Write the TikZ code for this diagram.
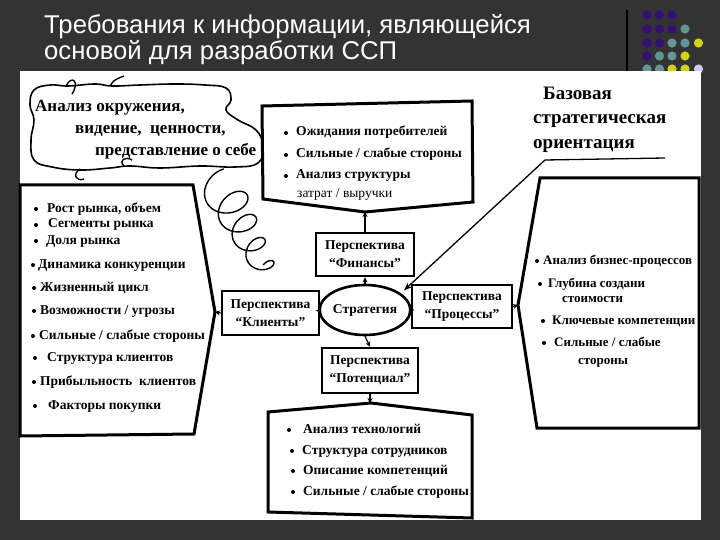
\documentclass[tikz,border=0pt]{standalone}
\usepackage{fontspec}
\setmainfont{Liberation Serif}
\newfontfamily\titlefont{Liberation Sans}
\usetikzlibrary{shapes.geometric,arrows.meta,calc}
\definecolor{bg}{RGB}{51,51,51}
\definecolor{dotpurple}{RGB}{50,16,120}
\definecolor{dotteal}{RGB}{98,150,152}
\definecolor{dotyellow}{RGB}{212,210,20}
\definecolor{dotlav}{RGB}{205,205,235}
\begin{document}
\begin{tikzpicture}[x=1pt,y=-1pt,
  titletext/.style={anchor=base west, inner sep=0pt, text=white, font=\titlefont\fontsize{25.7}{30}\selectfont},
  item/.style={anchor=west, inner sep=0pt, font=\bfseries\fontsize{13.5}{16}\selectfont, text height=9pt, text depth=3pt},
  itemr/.style={item, font=\fontsize{13.5}{16}\selectfont},
  items/.style={item, font=\bfseries\fontsize{13}{16}\selectfont},
  bigtext/.style={anchor=west, inner sep=0pt, font=\bfseries\fontsize{17}{21}\selectfont, text height=12pt, text depth=4.2pt},
  bsotext/.style={anchor=west, inner sep=0pt, font=\bfseries\fontsize{19}{23}\selectfont, text height=13pt, text depth=4.5pt},
  persp/.style={draw, line width=2.6pt, inner sep=0pt, align=center, font=\bfseries\fontsize{13.5}{18}\selectfont},
  outer/.style={draw, line width=3pt, line join=miter, fill=white},
  smallarr/.style={-{Stealth[length=5pt,width=5pt]}, line width=1.2pt},
  bul/.style={fill=black}
]
\useasboundingbox (0,0) rectangle (720,540);
\fill[bg] (0,0) rectangle (720,540);
% decorative dots
\foreach \x/\y/\c in {647/15/dotpurple,659.5/15/dotpurple,672/15/dotpurple,
  647/29/dotpurple,659.5/29/dotpurple,672/29/dotpurple,685/29/dotteal,
  647/43/dotpurple,659.5/43/dotpurple,672/43/dotteal,685/43/dotteal,698.5/43/dotyellow,
  647/56/dotpurple,659.5/56/dotteal,672/56/dotteal,685/56/dotyellow,
  647/69/dotteal,659.5/69/dotteal,672/69/dotyellow,685/69/dotyellow,698.5/69/dotlav}
  {\fill[\c] (\x,\y) circle (4.6pt);}
\draw[black, line width=1.5pt] (627,10) -- (627,71);
% title
\node[titletext] (t1) at (44,34) {Требования к информации, являющейся};
\node[titletext] (t2) at (44,60) {основой для разработки ССП};
% white panel
\fill[white] (20,71) rectangle (701,520);

% coil tail (drawn under the cloud)
\draw[line width=1.4pt] plot[domain=150:1620, samples=500, smooth, variable=\t]
  ({222 + 45*((\t-180)/1440) + (16-8*((\t-180)/1440))*cos(\t)*0.47 + (21-11*((\t-180)/1440))*sin(\t)*0.88},
   {188 + 84*((\t-180)/1440) + (16-8*((\t-180)/1440))*cos(\t)*0.88 - (21-11*((\t-180)/1440))*sin(\t)*0.47});
% cloud
\draw[line width=1.6pt, fill=white] plot[smooth cycle, tension=0.7] coordinates {(34,90) (50,85) (68,86) (95,84) (112,86) (140,85) (175,84) (205,85) (226,88) (231,100) (226,110) (238,120) (256,130) (263,146) (258,163) (235,167) (200,166) (160,168) (130,166) (110,168) (80,170) (52,167) (34,160) (31,140) (34,120) (30,105)};
\draw[line width=1.4pt] (66,86) .. controls (72,74) and (80,82) .. (72,94);
\draw[line width=1.4pt] (110,86) .. controls (114,80) .. (124,76);
\draw[line width=1.4pt] (80,169) .. controls (72,174) and (76,182) .. (84,179);
\draw[line width=1.4pt] (124,166) .. controls (118,160) and (126,156) .. (132,160);
\node[bigtext] (c1) at (35,108) {Анализ окружения,};
\node[bigtext] (c2) at (75,130) {видение,\ \ ценности,};
\node[bigtext] (c3) at (95,152) {представление о себе};

% top box (Finance info)
\draw[outer] (262,106) -- (472,101) -- (473,202) -- (365,212) -- (263,199) -- cycle;
\coordinate (topTip) at (365,212);
\foreach \y in {133,155,176} {\fill[bul] (286,\y) circle (2pt);}
\node[item] (f1) at (296,133) {Ожидания потребителей};
\node[item] (f2) at (296,155) {Сильные / слабые стороны};
\node[item] (f3) at (296,176) {Анализ структуры};
\node[itemr] (f4) at (297,194) {затрат / выручки};

% left box (customers info)
\draw[outer] (20,185) -- (193,185) -- (215,312) -- (194,434) -- (20,436) -- cycle;
\coordinate (leftTip) at (215,312);
\foreach \x/\y in {36/209,36/225,36/241,33/265,34/288,34/311,33/336,35/358,34/382,35/406}
  {\fill[bul] (\x,\y) circle (2pt);}
\node[item] (l1) at (47,209) {Рост рынка, объем};
\node[item] (l2) at (48,225) {Сегменты рынка};
\node[item] (l3) at (46,241) {Доля рынка};
\node[item] (l4) at (38,265) {Динамика конкуренции};
\node[item] (l5) at (40,288) {Жизненный цикл};
\node[item] (l6) at (40,311) {Возможности / угрозы};
\node[item] (l7) at (39,336) {Сильные / слабые стороны};
\node[item] (l8) at (47,358) {Структура клиентов};
\node[item] (l9) at (40,382) {Прибыльность\ \ клиентов};
\node[item] (l10) at (48,406) {Факторы покупки};

% right box (processes info)
\draw[outer] (540,178) -- (699,178) -- (699,428) -- (537,428) -- (518,305) -- cycle;
\coordinate (rightTip) at (518,305);
\foreach \x/\y in {537/261,540/284,543/321,544/343}
  {\fill[bul] (\x,\y) circle (2pt);}
\node[items] (r1) at (543,261) {Анализ бизнес-процессов};
\node[items] (r2) at (548,284) {Глубина создани};
\node[items] (r3) at (562,299) {стоимости};
\node[items] (r4) at (552,321) {Ключевые компетенции};
\node[items] (r5) at (554,343) {Сильные / слабые};
\node[items] (r6) at (578,361) {стороны};

% bottom box (potential info)
\draw[outer] (268,412) -- (371,403) -- (472,415) -- (472,518) -- (268,512) -- cycle;
\coordinate (botTip) at (370,403);
\foreach \x/\y in {289/430,292/451,293/471,293/492}
  {\fill[bul] (\x,\y) circle (2pt);}
\node[item] (b1) at (303,430) {Анализ технологий};
\node[item] (b2) at (302,451) {Структура сотрудников};
\node[item] (b3) at (303,471) {Описание компетенций};
\node[item] (b4) at (303,492) {Сильные / слабые стороны};

% basic strategic orientation
\node[bsotext] (bso1) at (543,95) {Базовая};
\node[bsotext] (bso2) at (533,119) {стратегическая};
\node[bsotext] (bso3) at (533,144) {ориентация};
\coordinate (bsoR) at (665,158);
\coordinate (bsoL) at (545,160);

% perspectives
\node[persp, minimum width=98pt, minimum height=43pt] (fin) at (365,254.5) {Перспектива\\“Финансы”};
\node[persp, minimum width=97pt, minimum height=44pt] (kli) at (270.5,313) {Перспектива\\“Клиенты”};
\node[persp, minimum width=100pt, minimum height=43pt] (pro) at (462,306.5) {Перспектива\\“Процессы”};
\node[persp, minimum width=96pt, minimum height=45pt] (pot) at (370,370.5) {Перспектива\\“Потенциал”};
\node[ellipse, draw, line width=2.6pt, minimum width=74pt, minimum height=50pt, inner sep=0pt,
  font=\bfseries\fontsize{13.5}{16}\selectfont] (strat) at (365,310) {Стратегия};

% connectors
\draw[smallarr] (strat.north) -- (fin.south);
\draw[smallarr] (strat.west) -- (kli.east);
\draw[smallarr] (strat.east) -- (pro.west);
\draw[smallarr] (strat.south) -- (pot.north);
\draw[smallarr] (fin.north) -- (topTip);
\draw[smallarr] (kli.west) -- (leftTip);
\draw[smallarr] (pro.east) -- (rightTip);
\draw[smallarr] (pot.south) -- (botTip);
\coordinate (bsoTip) at ($(strat.north east)+(6,-1)$);
\draw[line width=1.3pt, -{Stealth[length=8pt,width=6pt]}] (bsoR) -- (bsoL) -- (bsoTip);
\end{tikzpicture}
\end{document}
